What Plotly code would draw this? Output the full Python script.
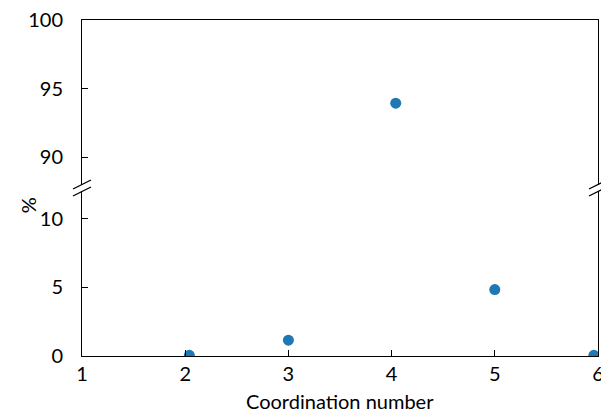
import plotly.graph_objects as go

# data
coordination = [2.04, 3.0, 4.04, 5.0, 5.96]
percent = [0.05, 1.15, 93.93, 4.85, 0.05]
x_ticks = [1, 2, 3, 4, 5, 6]
low_ticks = [0, 5, 10]
high_ticks = [90, 95, 100]

FONT = "Lato"
COLOR = "#1f77b4"

fig = go.Figure()
for xa, ya in (("x", "y"), ("x2", "y2")):
    fig.add_trace(go.Scatter(
        x=coordination, y=percent, mode="markers", xaxis=xa, yaxis=ya,
        marker=dict(color=COLOR, size=11), cliponaxis=True, showlegend=False))

axis_common = dict(showgrid=False, zeroline=False, showline=True, linecolor="black",
                   linewidth=1, ticks="inside", ticklen=6, tickcolor="black",
                   automargin=False,
                   tickfont=dict(family=FONT, size=20, color="black"))

fig.update_layout(
    width=601, height=414,
    margin=dict(l=82, r=3, t=20, b=58),
    plot_bgcolor="white", paper_bgcolor="white",
    font=dict(family=FONT, size=20, color="black"),
    xaxis=dict(**axis_common, range=[1, 6], tickvals=x_ticks, anchor="y",
               domain=[0, 1], mirror=False, ticklabeloverflow="allow"),
    yaxis=dict(**axis_common, range=[0, 12], tickvals=low_ticks, domain=[0, 0.4896],
               mirror=True, anchor="x", ticklabelstandoff=14),
    xaxis2=dict(showgrid=False, zeroline=False, showline=True, linecolor="black",
                linewidth=1, range=[1, 6], matches="x", anchor="y2", side="top",
                showticklabels=False, ticks="", automargin=False),
    yaxis2=dict(**axis_common, range=[88, 100], tickvals=high_ticks, domain=[0.5104, 1],
                mirror=True, anchor="x2", ticklabelstandoff=14),
)

# axis titles
fig.add_annotation(text="Coordination number", xref="paper", yref="paper",
                   x=0.5, y=0, yshift=-45, xanchor="center", yanchor="middle",
                   showarrow=False, borderpad=0,
                   font=dict(family=FONT, size=20, color="black"))
fig.add_annotation(text="%", xref="paper", yref="paper", x=0, y=0.449, xshift=-54,
                   xanchor="center", yanchor="middle",
                   textangle=-90, showarrow=False,
                   font=dict(family=FONT, size=20, color="black"))

# broken axis marks
for xa in (0, 1):
    for yref, ya in (("y2 domain", 0), ("y domain", 1)):
        fig.add_shape(type="line", xref="paper", yref=yref, xsizemode="pixel",
                      ysizemode="pixel", xanchor=xa, yanchor=ya,
                      x0=-9, y0=-4.5, x1=9, y1=4.5,
                      line=dict(color="black", width=1.3))

fig.write_html("out.html")
